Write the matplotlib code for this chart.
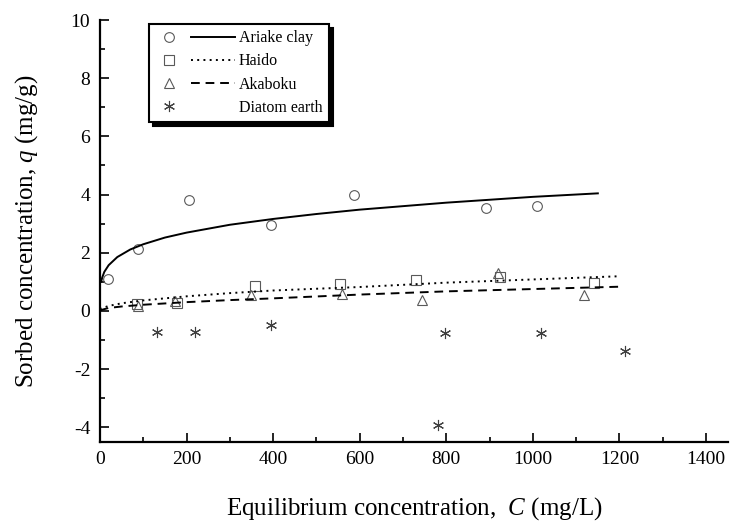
import matplotlib
matplotlib.use('Agg')
import matplotlib.pyplot as plt
from matplotlib.lines import Line2D
from matplotlib.legend_handler import HandlerBase
from matplotlib.ticker import MultipleLocator

plt.rcParams['font.family'] = 'Liberation Serif'
plt.rcParams['mathtext.fontset'] = 'custom'
plt.rcParams['mathtext.rm'] = 'Liberation Serif'
plt.rcParams['mathtext.it'] = 'Liberation Serif:italic'
plt.rcParams['axes.unicode_minus'] = False

#measured points
ariake_c = [19, 88, 206, 394, 587, 891, 1009]
ariake_q = [1.10, 2.14, 3.81, 2.94, 4.00, 3.53, 3.62]
haido_c = [85, 178, 358, 554, 729, 925, 1142]
haido_q = [0.25, 0.26, 0.85, 0.93, 1.05, 1.18, 0.96]
akaboku_c = [88, 173, 348, 559, 744, 919, 1119]
akaboku_q = [0.17, 0.34, 0.53, 0.57, 0.36, 1.31, 0.55]
diatom_c = [131, 219, 394, 781, 798, 1019, 1213]
diatom_q = [-0.74, -0.72, -0.48, -3.92, -0.77, -0.77, -1.39]

#fitted curves
ariake_fit_c = [3, 5, 10, 20, 40, 70, 100, 150, 200, 300, 400, 500, 600, 700, 800, 900, 1000, 1100, 1150]
ariake_fit_q = [1.01, 1.14, 1.34, 1.57, 1.85, 2.11, 2.29, 2.52, 2.69, 2.96, 3.16, 3.33, 3.48, 3.60, 3.72, 3.82, 3.92, 4.00, 4.04]
haido_fit_c = [0, 3, 20, 50, 100, 200, 300, 400, 600, 800, 1000, 1200]
haido_fit_q = [0.05, 0.08, 0.17, 0.26, 0.36, 0.50, 0.61, 0.70, 0.82, 0.97, 1.08, 1.19]
akaboku_fit_c = [0, 3, 20, 50, 100, 200, 300, 400, 600, 800, 1000, 1200]
akaboku_fit_q = [0.0, 0.03, 0.10, 0.15, 0.21, 0.30, 0.37, 0.43, 0.56, 0.67, 0.75, 0.83]

labels = ['Ariake clay', 'Haido', 'Akaboku', 'Diatom earth']


class MarkerLineHandler(HandlerBase):
    #marker on the left, line sample on the right
    def create_artists(self, legend, orig_handle, xdescent, ydescent,
                       width, height, fontsize, trans):
        mk, ln = orig_handle
        y = height / 2 - ydescent
        m = Line2D([-xdescent + 0.18 * width], [y])
        m.update_from(mk)
        m.set_linestyle('none')
        l = Line2D([-xdescent + 0.45 * width, -xdescent + width], [y, y])
        l.update_from(ln)
        l.set_marker('none')
        m.set_transform(trans)
        l.set_transform(trans)
        return [m, l]


fig = plt.figure(figsize=(7.33, 5.24), dpi=100)
ax = fig.add_axes([0.1364, 0.157, 0.8564, 0.8048])

mk_style = dict(linestyle='none', markerfacecolor='none', markeredgecolor='0.35',
                markeredgewidth=0.8, markersize=7)
star_style = dict(linestyle='none', marker=(6, 2, 0), color='0.25',
                  markeredgewidth=0.8, markersize=8)

ax.plot(ariake_c, ariake_q, marker='o', **mk_style)
ax.plot(haido_c, haido_q, marker='s', **mk_style)
ax.plot(akaboku_c, akaboku_q, marker='^', **mk_style)
ax.plot(diatom_c, diatom_q, **star_style)

ax.plot(ariake_fit_c, ariake_fit_q, color='black', linewidth=1.4, linestyle='-')
ax.plot(haido_fit_c, haido_fit_q, color='black', linewidth=1.4, linestyle=(0, (1, 2.2)))
ax.plot(akaboku_fit_c, akaboku_fit_q, color='black', linewidth=1.4, linestyle=(0, (4.5, 3)))

ax.set_xlim(0, 1450)
ax.set_ylim(-4.5, 10)
ax.xaxis.set_major_locator(MultipleLocator(200))
ax.xaxis.set_minor_locator(MultipleLocator(100))
ax.yaxis.set_major_locator(MultipleLocator(2))
ax.yaxis.set_minor_locator(MultipleLocator(1))
ax.set_xticks([0, 200, 400, 600, 800, 1000, 1200, 1400])

for s in ['top', 'right']:
    ax.spines[s].set_visible(False)
for s in ['left', 'bottom']:
    ax.spines[s].set_linewidth(1.6)

ax.tick_params(which='major', direction='in', length=6.5, width=1.2, labelsize=14, pad=7)
ax.tick_params(which='minor', direction='in', length=3.5, width=1.2)

ax.set_xlabel('Equilibrium concentration,  $C$ (mg/L)', fontsize=18, labelpad=19)
ax.set_ylabel('Sorbed concentration, $q$ (mg/g)', fontsize=18, labelpad=22)

#legend handles
h_ariake = (Line2D([], [], marker='o', **mk_style), Line2D([], [], color='black', linewidth=1.4))
h_haido = (Line2D([], [], marker='s', **mk_style),
           Line2D([], [], color='black', linewidth=1.4, linestyle=(0, (1, 2.2))))
h_akaboku = (Line2D([], [], marker='^', **mk_style),
             Line2D([], [], color='black', linewidth=1.4, linestyle=(0, (4.5, 3))))
h_diatom = (Line2D([], [], **star_style), Line2D([], [], linestyle='none'))

leg = ax.legend([h_ariake, h_haido, h_akaboku, h_diatom], labels,
                handler_map={tuple: MarkerLineHandler()},
                loc='upper left', bbox_to_anchor=(0.078, 0.99), borderaxespad=0,
                fontsize=11.5, handlelength=5.0, handletextpad=0.25, labelspacing=0.45,
                borderpad=0.38, fancybox=False, framealpha=1,
                shadow={'ox': 3, 'oy': -3, 'color': 'black', 'alpha': 1})
leg.get_frame().set_edgecolor('black')
leg.get_frame().set_linewidth(1.5)

fig.savefig('out.png', dpi=100)
